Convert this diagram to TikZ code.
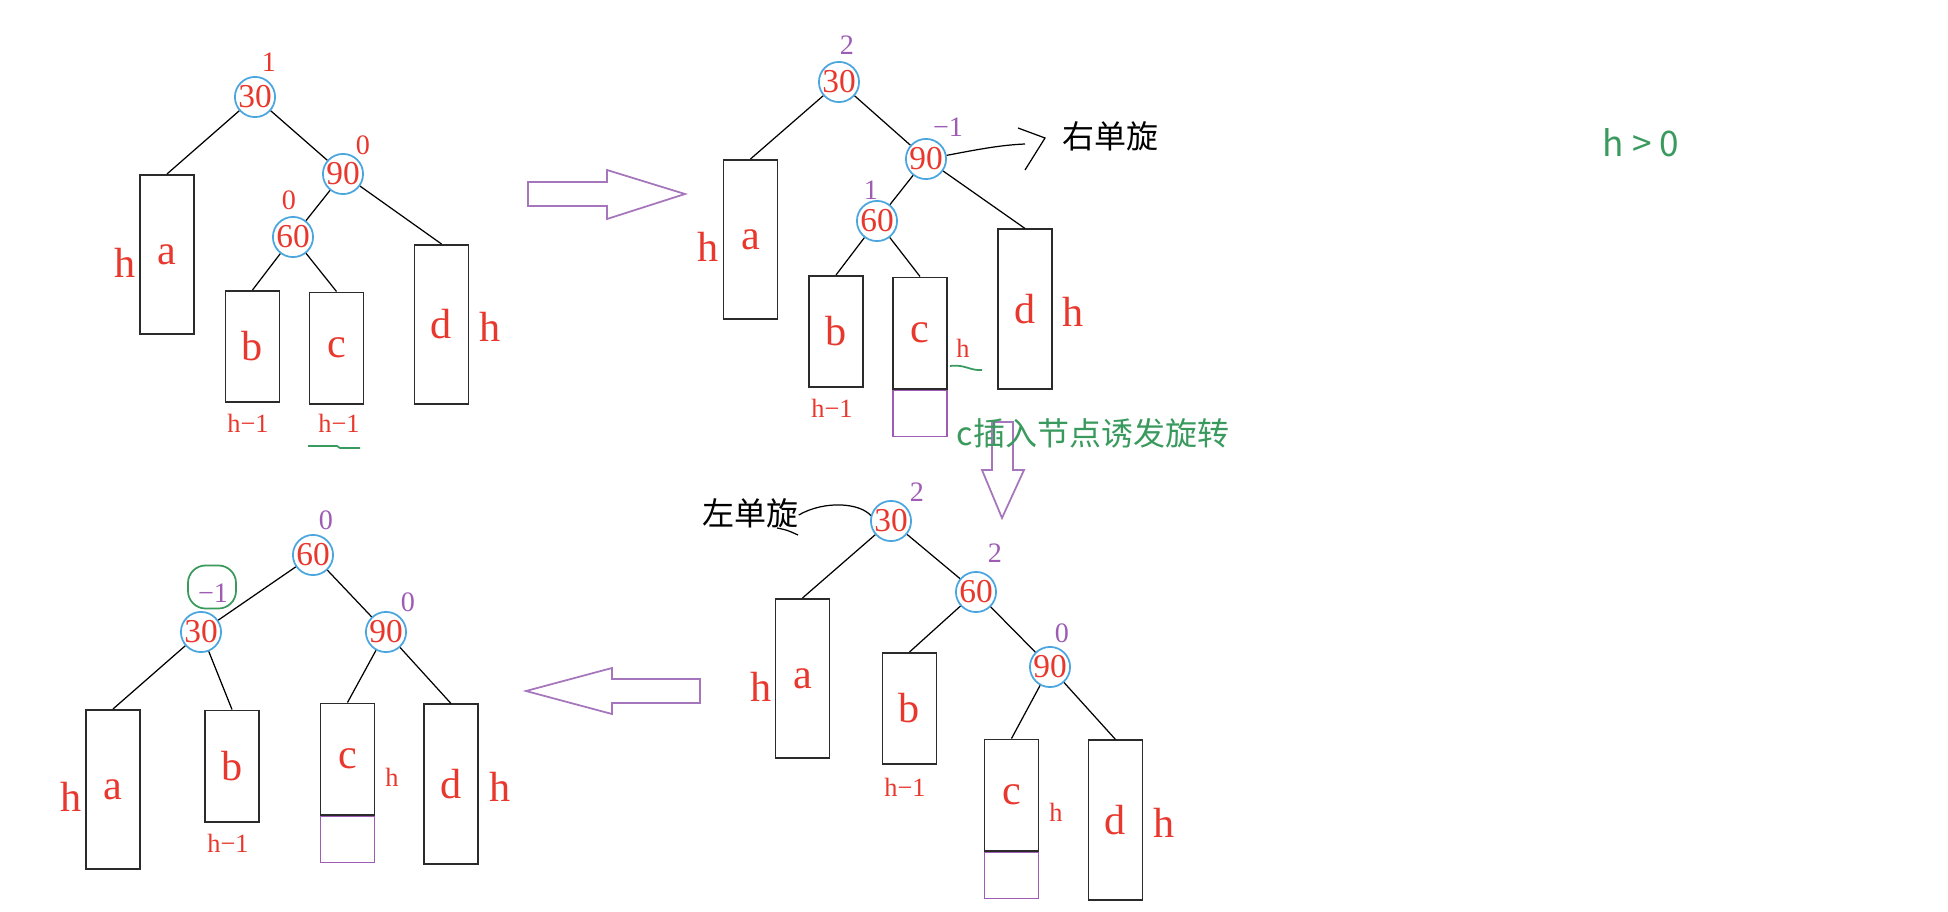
\documentclass[tikz,border=0pt]{standalone}
\usepackage{fontspec}
\usepackage{xcolor}
\usepackage{tikz}
\setmainfont{Liberation Serif}
\newfontfamily\cjk{Noto Sans CJK SC}
\usetikzlibrary{arrows.meta, positioning, calc}
\definecolor{keyred}{HTML}{E8382E}
\definecolor{ringblue}{HTML}{4BA6E0}
\definecolor{balpurple}{HTML}{9E5CB4}
\definecolor{notegreen}{HTML}{3A9A5E}
\definecolor{arrowpurple}{HTML}{A676BC}
\definecolor{boxgray}{HTML}{2B2B2B}

\tikzset{
  key/.style={circle, draw=ringblue, line width=0.5pt, minimum size=0.4cm, inner sep=0pt,
    text=keyred, font=\fontsize{9.5}{10}\selectfont},
  sub/.style={draw=boxgray, line width=0.55pt, minimum width=0.54cm, inner sep=0pt,
    text=keyred, font=\fontsize{12}{12}\selectfont},
  tall/.style={sub, minimum height=1.59cm},
  short/.style={sub, minimum height=1.11cm},
  addbox/.style={draw=balpurple, line width=0.5pt, minimum width=0.54cm, minimum height=0.46cm, inner sep=0pt},
  bal/.style={text=keyred, font=\fontsize{8}{8}\selectfont, inner sep=0pt},
  balp/.style={bal, text=balpurple},
  ht/.style={text=keyred, font=\fontsize{12}{12}\selectfont, inner sep=0pt},
  hts/.style={text=keyred, font=\fontsize{7.5}{8}\selectfont, inner sep=0pt},
  note/.style={font=\cjk\fontsize{9.1}{10}\selectfont, inner sep=0pt},
  fat/.style={draw=arrowpurple, line width=0.5pt},
  link/.style={black, line width=0.35pt},
}

\begin{document}
\begin{tikzpicture}[x=0.01cm, y=-0.01cm]
\useasboundingbox (0,0) rectangle (1948,912);

% tree before insertion
\node[key] (A30) at (255,97) {30};
\node[key] (A90) at (343,174) {90};
\node[key] (A60) at (293,237) {60};
\node[tall] (Aa) at (167,254.5) {a};
\node[short] (Ab) at (252.5,346.5) {b};
\node[short] (Ac) at (336.5,348) {c};
\node[tall] (Ad) at (441.5,324.5) {d};
\node[bal] (A30f) at (269,62) {1};
\node[bal] (A90f) at (363,145) {0};
\node[bal] (A60f) at (289,200) {0};
\node[ht] (Aah) at (125,263) {h};
\node[ht] (Adh) at (490,327) {h};
\node[hts] (Abh) at (248,423) {h−1};
\node[hts] (Ach) at (339,423) {h−1};
\draw[link] (A30) -- (Aa.north);
\draw[link] (A30) -- (A90);
\draw[link] (A90) -- (A60);
\draw[link] (A90) -- (Ad.north);
\draw[link] (A60) -- (Ab.north);
\draw[link] (A60) -- (Ac.north);
\draw[notegreen, line width=0.5pt] (308,446) -- (337,446) -- (340,448) -- (360,448);

\draw[fat] (528,182) -- (607,182) -- (607,170) -- (685,194) -- (607,219) -- (607,206) -- (528,206) -- cycle;

% after inserting into c
\node[key] (B30) at (839,82) {30};
\node[key] (B90) at (926,159) {90};
\node[key] (B60) at (877,221) {60};
\node[tall] (Ba) at (750.5,239.5) {a};
\node[short] (Bb) at (836,331.5) {b};
\node[short] (Bc) at (920,333) {c};
\node[tall] (Bd) at (1025,309) {d};
\node[addbox, below=0pt of Bc] (Bcx) {};
\node[balp] (B30f) at (847,45) {2};
\node[balp] (B90f) at (948,127) {−1};
\node[balp] (B60f) at (871,190) {1};
\node[ht] (Bah) at (708,247) {h};
\node[ht] (Bdh) at (1073,312) {h};
\node[hts] (Bbh) at (832,408) {h−1};
\node[hts] (Bch) at (963,348) {h};
\draw[link] (B30) -- (Ba.north);
\draw[link] (B30) -- (B90);
\draw[link] (B90) -- (B60);
\draw[link] (B90) -- (Bd.north);
\draw[link] (B60) -- (Bb.north);
\draw[link] (B60) -- (Bc.north);
\draw[notegreen, line width=0.5pt] (950,366) .. controls (965,364) and (970,371) .. (982,370);
\node[note] (Bturn) at (1110,136) {右单旋};
\coordinate (Btip) at (1045,138);
\draw[link] (B90.10) .. controls (975,150) and (1000,145) .. ($(Btip)+(-20,6)$);
\draw[link] ($(Btip)+(-27,-10)$) -- (Btip) -- ($(Btip)+(-20,32)$);

\draw[fat] (992,422) -- (1013,422) -- (1013,470) -- (1024,470) -- (1002,518) -- (982,470) -- (992,470) -- cycle;
\node[note, text=notegreen] (Cnote) at (1093,433) {c插入节点诱发旋转};

% left single rotation pending
\node[key] (C30) at (891,521) {30};
\node[key] (C60) at (976,592) {60};
\node[key] (C90) at (1050,667) {90};
\node[tall] (Ca) at (802.5,678.5) {a};
\node[short] (Cb) at (909.5,708.5) {b};
\node[short] (Cc) at (1011.5,795) {c};
\node[tall] (Cd) at (1115.5,820) {d};
\node[addbox, below=0pt of Cc] (Ccx) {};
\node[balp] (C30f) at (917,492) {2};
\node[balp] (C60f) at (995,553) {2};
\node[balp] (C90f) at (1062,633) {0};
\node[ht] (Cah) at (761,687) {h};
\node[ht] (Cdh) at (1164,823) {h};
\node[hts] (Cbh) at (905,787) {h−1};
\node[hts] (Cch) at (1056,812) {h};
\draw[link] (C30) -- (Ca.north);
\draw[link] (C30) -- (C60);
\draw[link] (C60) -- (Cb.north);
\draw[link] (C60) -- (C90);
\draw[link] (C90) -- (Cc.north);
\draw[link] (C90) -- (Cd.north);
\node[note] (Cturn) at (750,513) {左单旋};
\draw[link] (C30.165) .. controls (860,503) and (825,500) .. ($(Cturn.east)+(0,2)$);
\draw[link] (777,528) .. controls (787,530) .. (798,535);

\draw[fat] (700,679) -- (612,679) -- (612,668) -- (526,691) -- (612,714) -- (612,703) -- (700,703) -- cycle;

% balanced result
\node[key] (D60) at (313,555) {60};
\node[key] (D30) at (201,632) {30};
\node[key] (D90) at (386,632) {90};
\node[tall] (Da) at (113,789.5) {a};
\node[short] (Db) at (232,766) {b};
\node[short] (Dc) at (347.5,759) {c};
\node[tall] (Dd) at (451,784) {d};
\node[addbox, below=0pt of Dc] (Dcx) {};
\node[balp] (D60f) at (326,520) {0};
\node[balp] (D30f) at (213,593) {−1};
\node[balp] (D90f) at (408,602) {0};
\node[draw=notegreen, line width=0.5pt, rounded corners=5pt, minimum width=0.48cm, minimum height=0.43cm] (Dmark) at (212,587) {};
\node[ht] (Dah) at (71,797) {h};
\node[ht] (Ddh) at (500,787) {h};
\node[hts] (Dbh) at (228,843) {h−1};
\node[hts] (Dch) at (392,777) {h};
\draw[link] (D60) -- (D30);
\draw[link] (D60) -- (D90);
\draw[link] (D30) -- (Da.north);
\draw[link] (D30) -- (Db.north);
\draw[link] (D90) -- (Dc.north);
\draw[link] (D90) -- (Dd.north);

\node[font=\cjk\fontsize{10}{10}\selectfont, text=notegreen, inner sep=0pt] (cond) at (1641,143) {h > 0};
\end{tikzpicture}
\end{document}
